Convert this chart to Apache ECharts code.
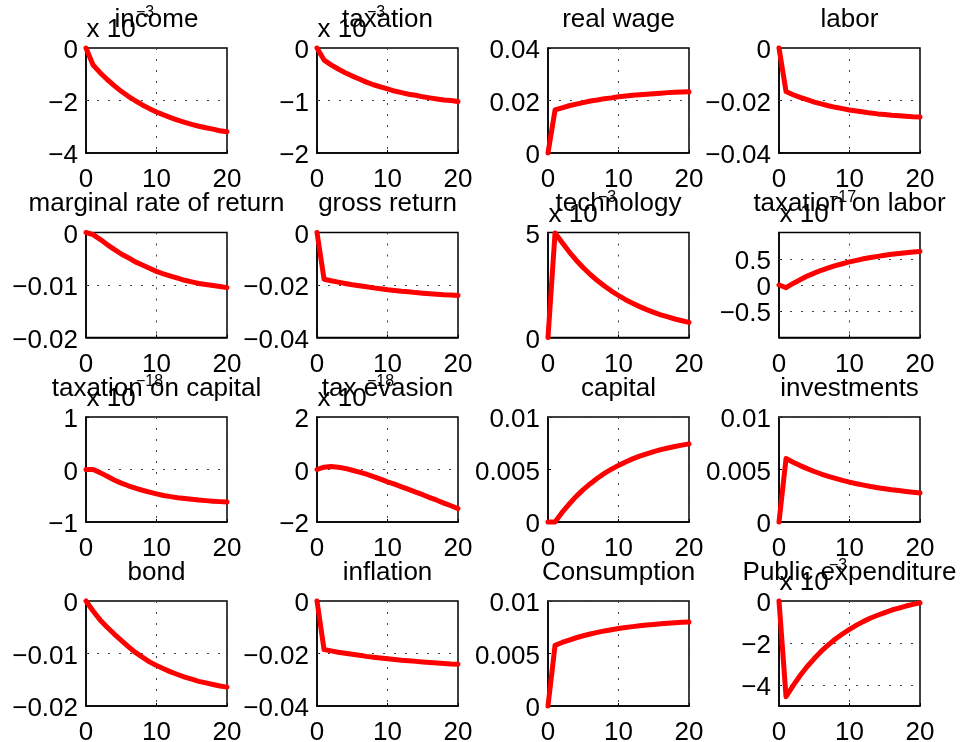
<!DOCTYPE html>
<html><head><meta charset="utf-8">
<script src="https://cdn.jsdelivr.net/npm/echarts@6/dist/echarts.min.js"></script>
<style>html,body{margin:0;padding:0;background:#fff}#c{width:962px;height:742px}</style>
</head><body><div id="c"></div>
<script>
// ---------- data ----------
const periods = [0,1,2,3,4,5,6,7,8,9,10,11,12,13,14,15,16,17,18,19,20];
const xTicks = [0, 10, 20];
const titles = ['income','taxation','real wage','labor','marginal rate of return','gross return','technology','taxation on labor','taxation on capital','tax evasion','capital','investments','bond','inflation','Consumption','Public expenditure'];
// power-of-ten multiplier printed above the axis (null = none)
const exponents = [-3,-3,null,null,null,null,-3,-17,-18,-18,null,null,null,null,null,-3];

// values as read on each panel's axis (mantissa when a multiplier is shown)
const income      = [0,-0.65,-0.94,-1.20,-1.43,-1.65,-1.84,-2.01,-2.17,-2.31,-2.44,-2.55,-2.65,-2.75,-2.83,-2.91,-2.98,-3.04,-3.09,-3.15,-3.19];
const taxation    = [0,-0.23,-0.32,-0.40,-0.47,-0.535,-0.59,-0.65,-0.70,-0.74,-0.78,-0.82,-0.85,-0.88,-0.90,-0.93,-0.95,-0.97,-0.99,-1.00,-1.02];
const realWage    = [0,0.0164,0.0172,0.0180,0.0186,0.0192,0.0198,0.0202,0.0207,0.0210,0.0214,0.0217,0.0220,0.0222,0.0224,0.0226,0.0228,0.0230,0.0231,0.0232,0.0233];
const labor       = [0,-0.0166,-0.0178,-0.0188,-0.0197,-0.0206,-0.0213,-0.0220,-0.0226,-0.0231,-0.0236,-0.0240,-0.0244,-0.0248,-0.0251,-0.0253,-0.0256,-0.0258,-0.0260,-0.0262,-0.0263];
const marginalRate= [0,-0.0004,-0.0013,-0.0023,-0.0032,-0.0041,-0.0048,-0.0056,-0.0062,-0.0068,-0.0074,-0.0079,-0.0083,-0.0087,-0.0091,-0.0094,-0.0097,-0.0099,-0.0101,-0.0103,-0.0105];
const grossReturn = [0,-0.0178,-0.0184,-0.0189,-0.0194,-0.0199,-0.0203,-0.0207,-0.0211,-0.0214,-0.0218,-0.0221,-0.0224,-0.0226,-0.0229,-0.0231,-0.0233,-0.0235,-0.0237,-0.0238,-0.0240];
const technology  = [0,4.98,4.52,4.08,3.68,3.32,3.00,2.71,2.45,2.21,2.00,1.80,1.63,1.47,1.33,1.20,1.08,0.98,0.88,0.80,0.72];
const taxLabor    = [0,-0.05,0.03,0.10,0.17,0.225,0.28,0.325,0.37,0.405,0.44,0.47,0.50,0.525,0.545,0.565,0.585,0.60,0.615,0.63,0.64];
const taxCapital  = [0,0,-0.06,-0.13,-0.20,-0.26,-0.31,-0.355,-0.395,-0.43,-0.465,-0.495,-0.517,-0.537,-0.553,-0.568,-0.582,-0.593,-0.603,-0.612,-0.619];
const taxEvasion  = [0,0.09,0.11,0.09,0.04,-0.03,-0.10,-0.18,-0.27,-0.37,-0.47,-0.56,-0.66,-0.76,-0.86,-0.96,-1.07,-1.17,-1.28,-1.38,-1.49];
const capital     = [0,0,0.00091,0.00171,0.00244,0.00308,0.00365,0.00417,0.00463,0.00503,0.00539,0.00572,0.00601,0.00627,0.00649,0.0067,0.00689,0.00705,0.00719,0.00732,0.00744];
const investments = [0,0.00604,0.00569,0.00537,0.00508,0.00481,0.00457,0.00435,0.00415,0.00396,0.00380,0.00364,0.00351,0.00338,0.00327,0.00317,0.00307,0.00299,0.00291,0.00284,0.00277];
const bond        = [0,-0.0019,-0.0036,-0.0050,-0.0063,-0.0075,-0.0087,-0.0098,-0.0107,-0.0116,-0.0123,-0.0129,-0.0135,-0.0140,-0.0145,-0.0149,-0.0153,-0.0156,-0.0159,-0.0162,-0.0164];
const inflation   = [0,-0.0185,-0.0190,-0.0195,-0.0199,-0.0203,-0.0207,-0.0211,-0.0214,-0.0217,-0.0220,-0.0223,-0.0226,-0.0228,-0.0230,-0.0232,-0.0234,-0.0236,-0.0238,-0.0240,-0.0241];
const consumption = [0,0.00578,0.00605,0.00628,0.00650,0.00669,0.00686,0.00701,0.00715,0.00727,0.00738,0.00747,0.00756,0.00764,0.00771,0.00777,0.00783,0.00788,0.00793,0.00797,0.00800];
const publicExp   = [0,-4.56,-4.03,-3.55,-3.12,-2.74,-2.39,-2.09,-1.81,-1.57,-1.35,-1.15,-0.97,-0.81,-0.68,-0.55,-0.43,-0.34,-0.24,-0.16,-0.09];

const seriesValues = [income,taxation,realWage,labor,marginalRate,grossReturn,technology,taxLabor,taxCapital,taxEvasion,capital,investments,bond,inflation,consumption,publicExp];

// y-axis ranges and labelled ticks
const yMin  = [-4,-2,0,-0.04,-0.02,-0.04,0,-1,-1,-2,0,0,-0.02,-0.04,0,-5];
const yMax  = [0,0,0.04,0,0,0,5,1,1,2,0.01,0.01,0,0,0.01,0];
const yStep = [2,1,0.02,0.02,0.01,0.02,5,0.5,1,2,0.005,0.005,0.01,0.02,0.005,1];
const yTicks = [[-4,-2,0],[-2,-1,0],[0,0.02,0.04],[-0.04,-0.02,0],[-0.02,-0.01,0],[-0.04,-0.02,0],[0,5],[-0.5,0,0.5],[-1,0,1],[-2,0,2],[0,0.005,0.01],[0,0.005,0.01],[-0.02,-0.01,0],[-0.04,-0.02,0],[0,0.005,0.01],[-4,-2,0]];

// ---------- layout ----------
const FONT = 'Liberation Sans, Arial, Helvetica, sans-serif';
const colLeft = [86, 317, 548, 779];
const rowTop = [48, 232.5, 417, 601];
const W = 141, H = 105;

function fmt(v) {
  if (Math.abs(v) < 1e-12) return '0';
  return String(parseFloat(v.toPrecision(6))).replace('-', '\u2212');
}

const grids = [], xAxes = [], yAxes = [], series = [], graphics = [];
const dotted = {type: [2, 9], color: '#444', width: 1};

titles.forEach((t, i) => {
  const r = Math.floor(i / 4), c = i % 4;
  const left = colLeft[c], top = rowTop[r];
  grids.push({left: left, top: top, width: W, height: H, show: true,
    borderColor: '#000', borderWidth: 1.5, containLabel: false, outerBoundsMode: 'none'});
  xAxes.push({gridIndex: i, type: 'value', min: xTicks[0], max: xTicks[xTicks.length-1], interval: xTicks[1]-xTicks[0],
    axisLine: {show: true, onZero: false, lineStyle: {color: '#000', width: 1.5}},
    axisTick: {show: true, inside: true, length: 3, lineStyle: {color: '#000'}},
    axisLabel: {fontSize: 26, color: '#000', fontFamily: FONT, margin: 14, showMinLabel: true, showMaxLabel: true},
    splitLine: {show: true, lineStyle: dotted}});
  const ticks = yTicks[i];
  const isTick = v => ticks.some(t => Math.abs(t - v) < 1e-9);
  yAxes.push({gridIndex: i, type: 'value', min: yMin[i], max: yMax[i], interval: yStep[i],
    axisLine: {show: true, onZero: false, lineStyle: {color: '#000', width: 1.5}},
    axisTick: {show: true, inside: true, length: 3, lineStyle: {color: '#000'}, customValues: ticks},
    axisLabel: {fontSize: 26, color: '#000', fontFamily: FONT, margin: 8, showMinLabel: true, showMaxLabel: true,
      verticalAlign: 'top', lineHeight: 6,
      formatter: v => isTick(v) ? fmt(v) : ''},
    splitLine: {show: false}});
  const interior = ticks.filter(v => v > yMin[i] + 1e-9 && v < yMax[i] - 1e-9);
  series.push({type: 'line', xAxisIndex: i, yAxisIndex: i, showSymbol: false, symbol: 'none', clip: false,
    lineStyle: {color: '#ff0000', width: 5, cap: 'round', join: 'round'},
    data: periods.map((p, k) => [p, seriesValues[i][k]]),
    markLine: {silent: true, symbol: 'none', label: {show: false}, animation: false, z: 1,
      lineStyle: dotted, data: interior.map(v => ({yAxis: v}))},
    z: 3});
  graphics.push({type: 'text', x: left + W / 2, y: top - 28.5, z: 10,
    style: {text: t, font: '26px ' + FONT, fill: '#000', align: 'center', verticalAlign: 'middle'}});
  if (exponents[i] !== null) {
    graphics.push({type: 'text', x: left + 0.5, y: top - 18, z: 9,
      style: {text: 'x 10', font: '26px ' + FONT, fill: '#000', align: 'left', verticalAlign: 'middle'}});
    graphics.push({type: 'text', x: left + 50, y: top - 35, z: 9,
      style: {text: String(exponents[i]).replace('-', '\u2212'), font: '16px ' + FONT, fill: '#000', align: 'left', verticalAlign: 'middle'}});
  }
});

const chart = echarts.init(document.getElementById('c'), null, {renderer: 'canvas'});
chart.setOption({
  animation: false,
  backgroundColor: '#fff',
  grid: grids, xAxis: xAxes, yAxis: yAxes, series: series, graphic: graphics
});
</script>
</body></html>
